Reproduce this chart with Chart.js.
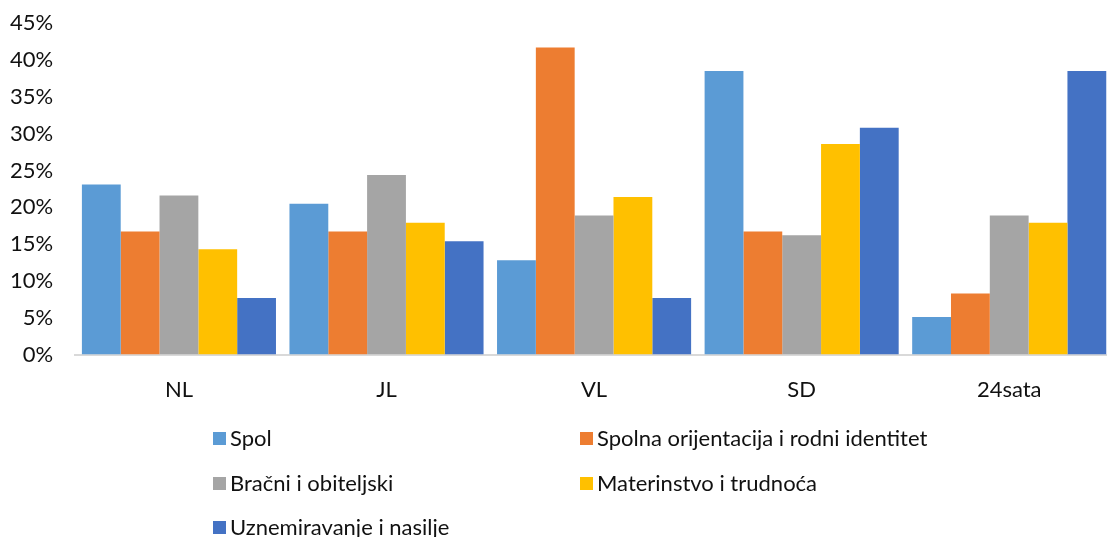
<!DOCTYPE html>
<html>
<head>
<meta charset="utf-8">
<script src="https://cdn.jsdelivr.net/npm/chart.js@4/dist/chart.umd.min.js"></script>
<style>
    html, body { margin: 0; padding: 0; background: #fff; }
    body { position: relative; width: 1107px; height: 537px; overflow: hidden; font-family: Lato, 'Open Sans', sans-serif; }
    #wrap { position: absolute; left: 0; top: -12px; width: 1113px; height: 437px; }
    #legend { position: absolute; left: 0; top: 0; width: 1107px; height: 537px; }
    .item { position: absolute; display: flex; align-items: center; font-size: 22px; color: #111; white-space: nowrap; line-height: 26px; }
    .box { width: 13px; height: 13px; margin-right: 4px; }
</style>
</head>
<body>
<div id="wrap"><canvas id="chart"></canvas></div>
<div id="legend"></div>
<script>
// Data (percent)
const categories = ['NL', 'JL', 'VL', 'SD', '24sata'];
const seriesNames = ['Spol', 'Spolna orijentacija i rodni identitet', 'Bračni i obiteljski', 'Materinstvo i trudnoća', 'Uznemiravanje i nasilje'];
const spol = [23.1, 20.5, 12.8, 38.5, 5.1];
const spolnaOrijentacija = [16.7, 16.7, 41.7, 16.7, 8.3];
const bracni = [21.6, 24.4, 18.9, 16.2, 18.9];
const materinstvo = [14.3, 17.9, 21.4, 28.6, 17.9];
const uznemiravanje = [7.7, 15.4, 7.7, 30.8, 38.5];
const colors = ['#5B9BD5', '#ED7D31', '#A5A5A5', '#FFC000', '#4472C4'];
const yTicks = [0, 5, 10, 15, 20, 25, 30, 35, 40, 45];

const seriesValues = [spol, spolnaOrijentacija, bracni, materinstvo, uznemiravanje];

const datasets = seriesNames.map((name, i) => ({
    label: name,
    data: seriesValues[i],
    backgroundColor: colors[i],
    borderWidth: 0
}));

new Chart(document.getElementById('chart'), {
    type: 'bar',
    data: { labels: categories, datasets: datasets },
    options: {
        responsive: true,
        maintainAspectRatio: false,
        animation: false,
        layout: { padding: { top: 0, left: -12, right: 0, bottom: 0 } },
        datasets: { bar: { categoryPercentage: 0.935, barPercentage: 1 } },
        scales: {
            x: {
                grid: { display: false, drawTicks: false },
                border: { display: true, color: '#d9d9d9', width: 2 },
                ticks: { padding: 22, color: '#111', font: { family: 'Lato', size: 22 } }
            },
            y: {
                min: 0,
                max: 45,
                afterBuildTicks: axis => { axis.ticks = yTicks.map(v => ({ value: v })); },
                grid: { display: false, drawTicks: false },
                border: { display: false },
                ticks: {
                    padding: 22,
                    color: '#111',
                    font: { family: 'Lato', size: 22 },
                    callback: v => v + '%'
                }
            }
        },
        plugins: {
            legend: { display: false },
            tooltip: { enabled: false }
        }
    }
});

// Legend in two columns, like the original
const legend = document.getElementById('legend');
const legendPos = [[213, 438], [580, 438], [213, 483], [580, 483], [213, 527]];
seriesNames.forEach((name, i) => {
    const item = document.createElement('div');
    item.className = 'item';
    item.style.left = legendPos[i][0] + 'px';
    item.style.top = (legendPos[i][1] - 13) + 'px';
    item.innerHTML = '<span class="box" style="background:' + colors[i] + '"></span>';
    item.appendChild(document.createTextNode(name));
    legend.appendChild(item);
});
</script>
</body>
</html>
